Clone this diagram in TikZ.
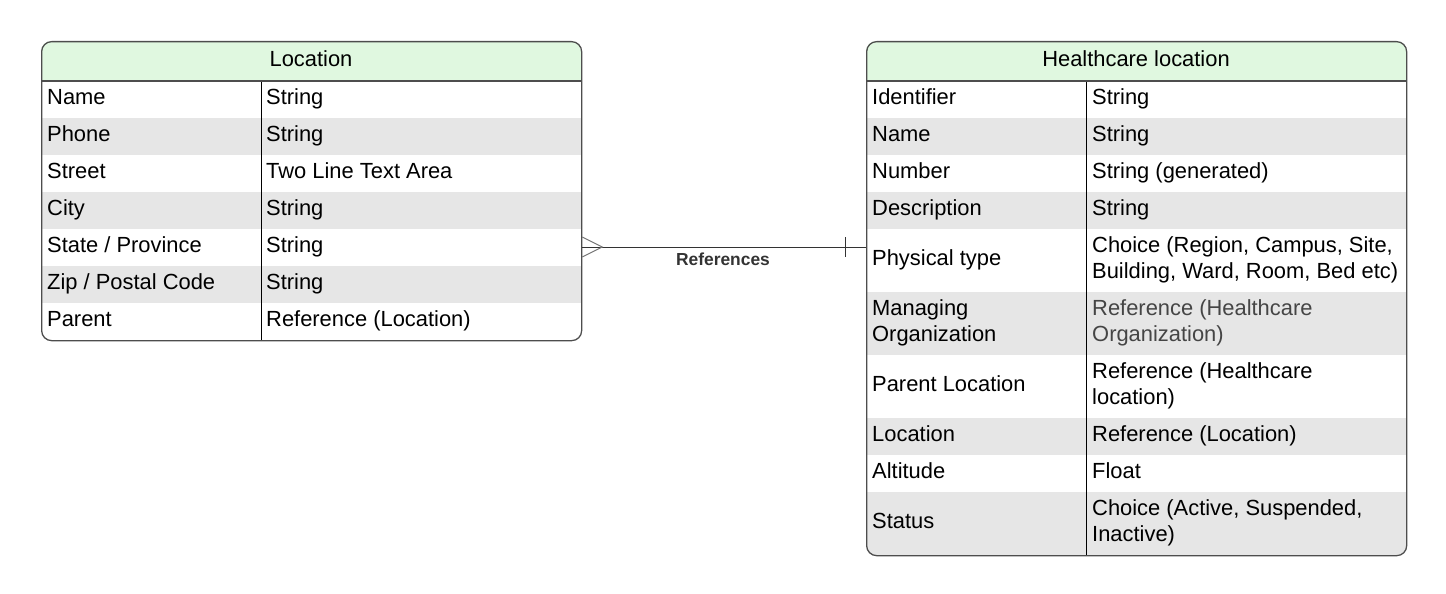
\documentclass[tikz,border=0pt]{standalone}
\usepackage{fontspec}
\setmainfont{Liberation Sans}
\definecolor{headc}{HTML}{E0F8E0}
\definecolor{rowc}{HTML}{E6E6E6}
\definecolor{framec}{HTML}{4D4D4D}
\definecolor{linec}{HTML}{333333}
\definecolor{footc}{HTML}{777777}
\definecolor{greytext}{HTML}{454545}
\newcommand\tabrow[6]{%
  \node[cell] (#1a) at (#2,#4) {#5};
  \node[cell] (#1b) at (#3,#4) {#6};}
\begin{document}
\begin{tikzpicture}[x=1pt,y=-1pt,
  cell/.style={anchor=west, inner sep=0pt, align=left, font=\fontsize{21.9}{26}\selectfont},
  greycell/.style={cell, text=greytext},
  frame/.style={draw=framec, line width=1.3pt, rounded corners=10pt, inner sep=0pt, anchor=north west},
  divider/.style={draw=black, line width=1pt},
  rel/.style={draw=linec, line width=1pt},
  foot/.style={draw=footc, line width=1pt},
  lbl/.style={inner sep=0pt, text=linec, font=\fontsize{17.4}{20}\selectfont\bfseries}
]
\useasboundingbox (0,0) rectangle (1446,594);

% ---------- Location table ----------
\begin{scope}
  \clip[rounded corners=10pt] (41,41) rectangle (581,340);
  \fill[headc] (41,41) rectangle (581,81);
  \fill[rowc] (41,118) rectangle (581,155);
  \fill[rowc] (41,192) rectangle (581,229);
  \fill[rowc] (41,266) rectangle (581,303);
\end{scope}
\draw[divider] (261,81) -- (261,340);
\draw[draw=framec, line width=1.3pt] (41,81) -- (581,81);
\node[frame, minimum width=540pt, minimum height=299pt] (loc) at (41,41) {};
\node[cell, anchor=center] (loch) at (311,61) {\strut Location};
\tabrow{l1}{47}{266}{99.5}{\strut Name}{\strut String}
\tabrow{l2}{47}{266}{136.5}{\strut Phone}{\strut String}
\tabrow{l3}{47}{266}{173.5}{\strut Street}{\strut Two Line Text Area}
\tabrow{l4}{47}{266}{210.5}{\strut City}{\strut String}
\tabrow{l5}{47}{266}{247.5}{\strut State / Province}{\strut String}
\tabrow{l6}{47}{266}{284.5}{\strut Zip / Postal Code}{\strut String}
\tabrow{l7}{47}{266}{321.5}{\strut Parent}{\strut Reference (Location)}

% ---------- Healthcare location table ----------
\begin{scope}
  \clip[rounded corners=10pt] (866,41) rectangle (1406,555);
  \fill[headc] (866,41) rectangle (1406,81);
  \fill[rowc] (866,118) rectangle (1406,155);
  \fill[rowc] (866,192) rectangle (1406,229);
  \fill[rowc] (866,292) rectangle (1406,355);
  \fill[rowc] (866,418) rectangle (1406,455);
  \fill[rowc] (866,492) rectangle (1406,555);
\end{scope}
\draw[divider] (1086,81) -- (1086,555);
\draw[draw=framec, line width=1.3pt] (866,81) -- (1406,81);
\node[frame, minimum width=540pt, minimum height=514pt] (hc) at (866,41) {};
\node[cell, anchor=center] (hch) at (1136,61) {\strut Healthcare location};
\tabrow{h1}{872}{1092}{99.5}{\strut Identifier}{\strut String}
\tabrow{h2}{872}{1092}{136.5}{\strut Name}{\strut String}
\tabrow{h3}{872}{1092}{173.5}{\strut Number}{\strut String (generated)}
\tabrow{h4}{872}{1092}{210.5}{\strut Description}{\strut String}
\tabrow{h5}{872}{1092}{260.5}{\strut Physical type}{\strut Choice (Region, Campus, Site,\\\strut Building, Ward, Room, Bed etc)}
\node[cell] (h6a) at (872,323.5) {\strut Managing\\\strut Organization};
\node[greycell] (h6b) at (1092,323.5) {\strut Reference (Healthcare\\\strut Organization)};
\tabrow{h7}{872}{1092}{386.5}{\strut Parent Location}{\strut Reference (Healthcare\\\strut location)}
\tabrow{h8}{872}{1092}{436.5}{\strut Location}{\strut Reference (Location)}
\tabrow{h9}{872}{1092}{473.5}{\strut Altitude}{\strut Float}
\tabrow{h10}{872}{1092}{523.5}{\strut Status}{\strut Choice (Active, Suspended,\\\strut Inactive)}

% ---------- relationship ----------
\coordinate (refy) at (720,247);
\draw[rel] (loc.east |- refy) -- (hc.west |- refy);
\draw[foot] ([yshift=10pt]loc.east |- refy) -- ([xshift=20pt]loc.east |- refy) -- ([yshift=-10pt]loc.east |- refy);
\draw[rel] ([xshift=-21pt,yshift=10pt]hc.west |- refy) -- ([xshift=-21pt,yshift=-10pt]hc.west |- refy);
\node[lbl] (reflbl) at (723,259) {References};
\end{tikzpicture}
\end{document}
